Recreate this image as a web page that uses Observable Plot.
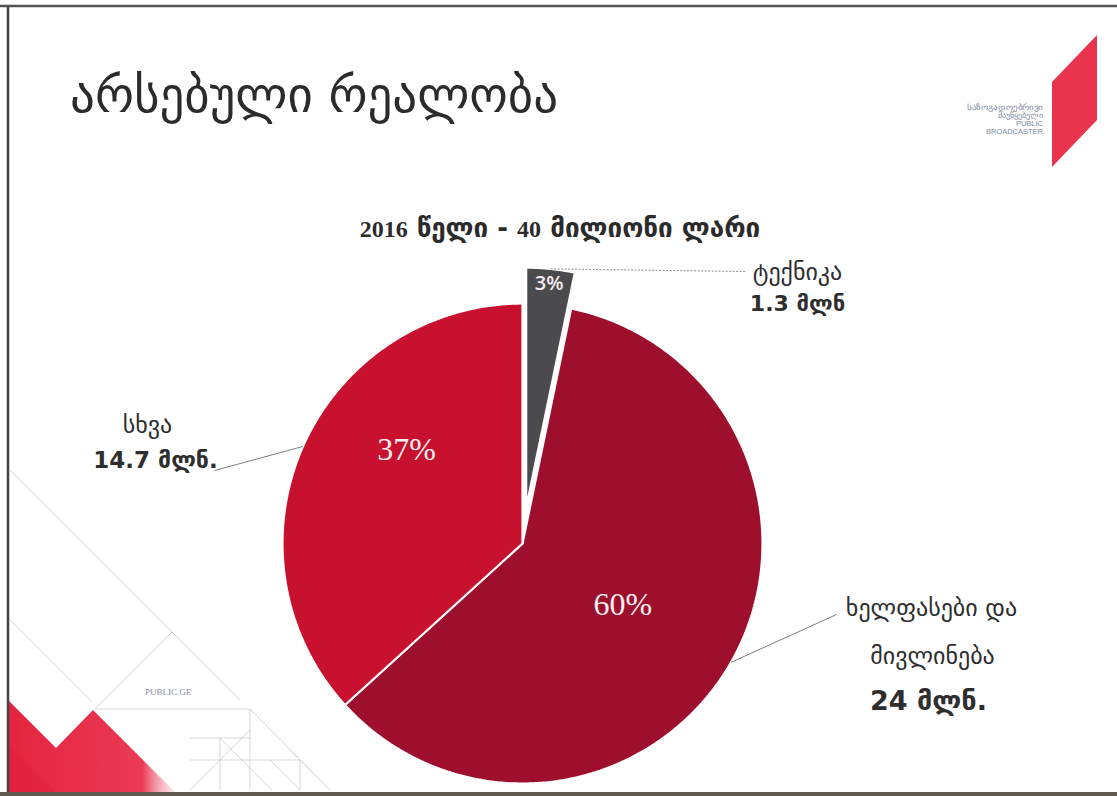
<!DOCTYPE html>
<html><head><meta charset="utf-8">
<script src="https://cdn.jsdelivr.net/npm/d3@7"></script>
<script src="https://cdn.jsdelivr.net/npm/@observablehq/plot@0.6"></script>
<style>
html,body{margin:0;padding:0;background:#fff;}
#slide{position:relative;width:1117px;height:796px;overflow:hidden;background:#fff;font-family:"DejaVu Sans",sans-serif;}
#deco,#chart{position:absolute;left:0;top:0;}
.t{position:absolute;white-space:nowrap;color:#2b2b2b;}
#title{left:70px;top:67px;font-size:49px;font-weight:normal;}
#subtitle{left:0;width:1120px;top:213px;text-align:center;font-size:26px;font-weight:bold;}
#subtitle .num{font-family:"Liberation Serif",serif;font-weight:bold;font-size:24px;}
</style></head><body>
<div id="slide">
<svg id="deco" width="1117" height="796">
  <defs>
    <linearGradient id="fade" x1="0" x2="1" y1="0" y2="0">
      <stop offset="0" stop-color="#e4243f"/>
      <stop offset="0.8" stop-color="#eb3a55"/>
      <stop offset="1" stop-color="#f3a5b2" stop-opacity="0.2"/>
    </linearGradient>
  </defs>
  <g stroke="#c9cdd3" stroke-width="0.8" fill="none">
    <line x1="10" y1="470" x2="240" y2="700"/>
    <line x1="8" y1="618" x2="92" y2="702"/>
    <line x1="172" y1="632" x2="95" y2="709"/>
    <line x1="95" y1="709" x2="250" y2="709"/>
    <line x1="250" y1="709" x2="330" y2="790"/>
    <line x1="190" y1="790" x2="250" y2="730"/>
    <line x1="220" y1="738" x2="220" y2="790"/>
    <line x1="250" y1="709" x2="250" y2="790"/>
    <line x1="190" y1="760" x2="300" y2="760"/>
    <line x1="190" y1="738" x2="250" y2="738"/>
    <line x1="220" y1="738" x2="272" y2="790"/>
    <line x1="270" y1="760" x2="300" y2="790"/>
    <line x1="290" y1="750" x2="320" y2="780"/>
    <line x1="300" y1="760" x2="300" y2="790"/>
  </g>
  <polygon points="8,700 56,748 93,710 176,793 8,793" fill="url(#fade)"/>
  <polygon points="8,745 56,793 8,793" fill="#e01f3b" opacity="0.5"/>
  <text x="145" y="695" font-size="9" fill="#8090a6" font-family="Liberation Serif">PUBLIC.GE</text>
  <polygon points="1052,82 1097,35 1097,120 1052,167" fill="#e8354d"/>
  <g font-size="7.5" fill="#7d8ca2" text-anchor="end" font-family="Liberation Sans">
    <text x="1043" y="110" textLength="76" lengthAdjust="spacingAndGlyphs">საზოგადოებრივი</text>
    <text x="1043" y="118">მაუწყებელი</text>
    <text x="1043" y="126">PUBLIC</text>
    <text x="1043" y="134">BROADCASTER</text>
  </g>
  <line x1="0" y1="6" x2="1117" y2="6" stroke="#555" stroke-width="2.5"/>
  <line x1="8" y1="6" x2="8" y2="796" stroke="#444" stroke-width="2.5"/>
  <line x1="0" y1="794" x2="1117" y2="794" stroke="#5e5a52" stroke-width="4"/>
</svg>
<div id="chart"></div>
<div class="t" id="title">არსებული რეალობა</div>
<div class="t" id="subtitle"><span class="num">2016</span> წელი - <span class="num">40</span> მილიონი ლარი</div>
</div>
<script>
// ---- data (million GEL, 2016) ----
const categories = ["ტექნიკა", "ხელფასები და მივლინება", "სხვა"];
const values = [1.3, 24, 14.7];
const percentLabels = ["3%", "60%", "37%"];
const nameLines = [["ტექნიკა"], ["ხელფასები და", "მივლინება"], ["სხვა"]];
const amountLabels = ["1.3 მლნ", "24 მლნ.", "14.7 მლნ."];

// ---- layout / style ----
const W = 1117, H = 796, CX = 522, CY = 543, R = 240;
const palette = ["#4b4a4d", "#9e0e2d", "#c8102f"];
const explode = [0.15, 0, 0];
const pctStyle = [
  {r: 0.94, shift: 0, size: 20, weight: 600, font: "Open Sans, sans-serif"},
  {r: 0.49, shift: 1.7, size: 32, weight: 400, font: "Liberation Serif, serif"},
  {r: 0.62, shift: 15, size: 32, weight: 400, font: "Liberation Serif, serif"}
];
// label anchors in pixels (outside annotations)
const px = (x) => (x - CX) / R, py = (y) => (CY - y) / R;
const annot = [
  {nameAt: [[797, 272]], amtAt: [797, 303], amtSize: 22, leaderEnd: [746, 271], dashed: true},
  {nameAt: [[931, 608], [932, 656]], amtAt: [928, 701], amtSize: 27, leaderEnd: [836, 614], dashed: false},
  {nameAt: [[147, 425]], amtAt: [155, 460], amtSize: 23, leaderEnd: [214, 470], dashed: false}
];

const arcs = d3.pie().sort(null).value(d => d)(values);
const deg = Math.PI / 180;
const slices = arcs.map((a, i) => {
  const mid = (a.startAngle + a.endAngle) / 2;
  const ox = explode[i] * Math.sin(mid), oy = explode[i] * Math.cos(mid);
  const pts = [{x: ox, y: oy}];
  const n = Math.max(2, Math.ceil((a.endAngle - a.startAngle) / (0.5 * deg)));
  for (let k = 0; k <= n; k++) {
    const t = a.startAngle + (a.endAngle - a.startAngle) * k / n;
    pts.push({x: ox + Math.sin(t), y: oy + Math.cos(t)});
  }
  pts.push({x: ox, y: oy});
  return {i, mid, ox, oy, pts};
});

const pctData = slices.map(s => {
  const st = pctStyle[s.i];
  const ang = s.mid + st.shift * deg;
  return {x: s.ox + st.r * Math.sin(ang), y: s.oy + st.r * Math.cos(ang), text: percentLabels[s.i], size: st.size, weight: st.weight, font: st.font};
});

const leaders = slices.map(s => ({
  x1: s.ox + Math.sin(s.mid), y1: s.oy + Math.cos(s.mid),
  x2: px(annot[s.i].leaderEnd[0]), y2: py(annot[s.i].leaderEnd[1]), dashed: annot[s.i].dashed
}));

const nameData = [];
slices.forEach(s => nameLines[s.i].forEach((line, j) => {
  const p = annot[s.i].nameAt[j];
  nameData.push({x: px(p[0]), y: py(p[1]), text: line});
}));
const amtData = slices.map(s => ({x: px(annot[s.i].amtAt[0]), y: py(annot[s.i].amtAt[1]), text: amountLabels[s.i], size: annot[s.i].amtSize}));

const marks = [];
slices.forEach(s => {
  marks.push(Plot.line(s.pts, {x: "x", y: "y", fill: palette[s.i], stroke: "white", strokeWidth: 2.2, strokeLinejoin: "miter", curve: "linear"}));
});
marks.push(Plot.link(leaders.filter(d => d.dashed), {x1: "x1", y1: "y1", x2: "x2", y2: "y2", stroke: "#8a8a8a", strokeWidth: 1, strokeDasharray: "2,1.5"}));
marks.push(Plot.link(leaders.filter(d => !d.dashed), {x1: "x1", y1: "y1", x2: "x2", y2: "y2", stroke: "#6e6e6e", strokeWidth: 0.9}));
pctData.forEach(d => marks.push(Plot.text([d], {x: "x", y: "y", text: "text", fill: "#f6eef0", fontSize: d.size, fontWeight: d.weight, fontFamily: d.font})));
marks.push(Plot.text(nameData, {x: "x", y: "y", text: "text", fill: "#2e2e2e", fontSize: 24, fontFamily: "DejaVu Sans, sans-serif"}));
amtData.forEach(d => marks.push(Plot.text([d], {x: "x", y: "y", text: "text", fill: "#2e2e2e", fontSize: d.size, fontWeight: "bold", fontFamily: "DejaVu Sans, sans-serif"})));

const chart = Plot.plot({
  width: W, height: H,
  margin: 0,
  style: {background: "transparent", overflow: "visible"},
  x: {domain: [px(0), px(W)], range: [0, W], axis: null},
  y: {domain: [py(H), py(0)], range: [H, 0], axis: null},
  marks
});
document.getElementById("chart").appendChild(chart);
</script>
</body></html>
